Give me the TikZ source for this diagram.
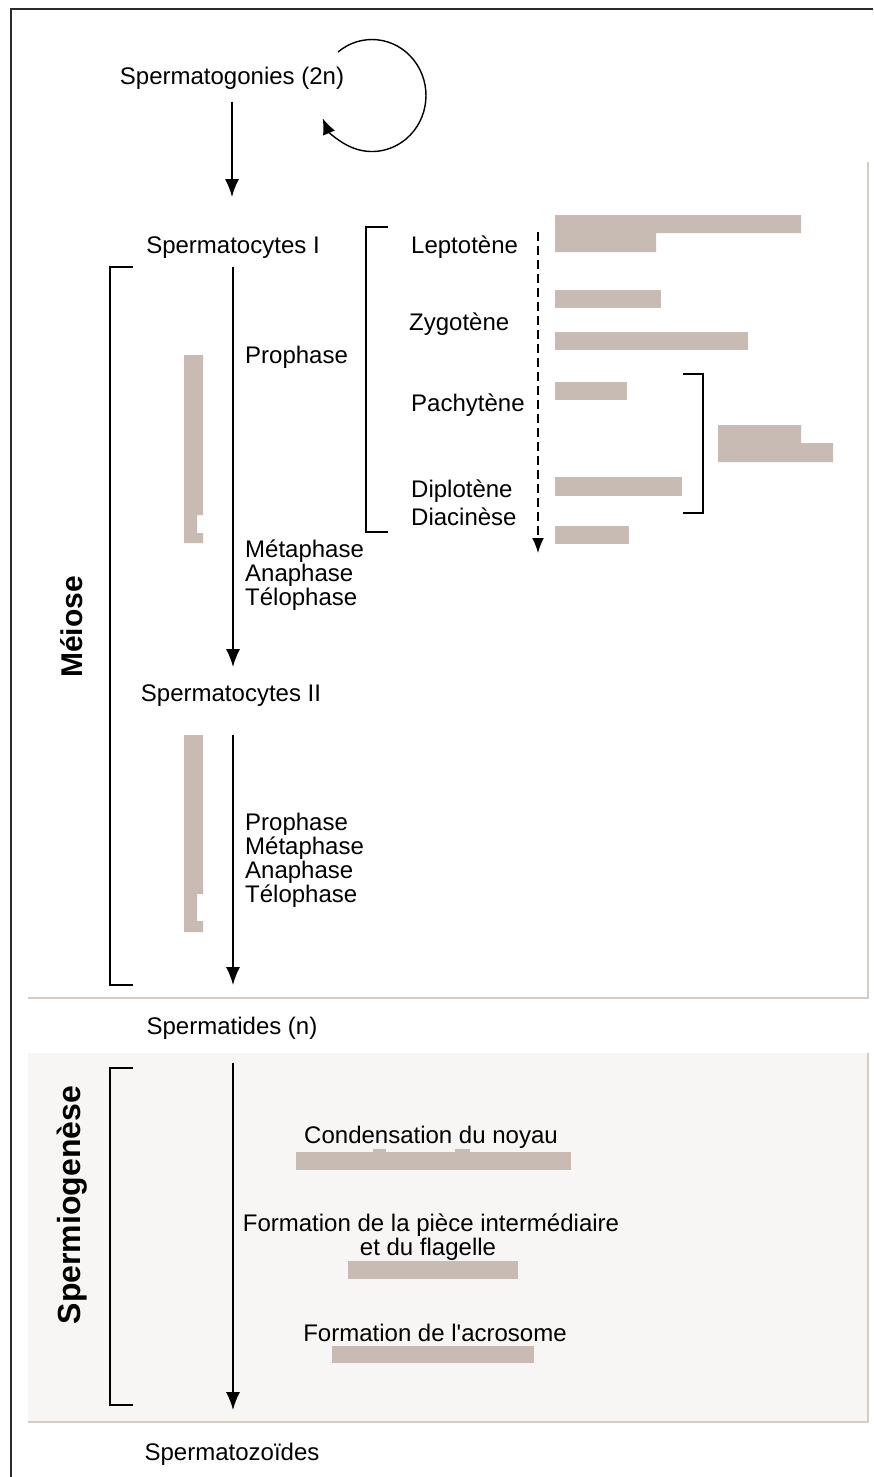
\documentclass[tikz,border=0pt]{standalone}
\usepackage{fontspec}
\setmainfont{Liberation Sans}
\newfontfamily\plainsans{Liberation Sans}
\usetikzlibrary{arrows.meta,calc}
\definecolor{barc}{HTML}{C8BBB3}
\definecolor{panelc}{HTML}{F7F6F4}
\definecolor{edgec}{HTML}{D6CCC6}
\definecolor{framec}{HTML}{2B2B2B}
\begin{document}
\begin{tikzpicture}[x=1pt,y=-1pt,
  every node/.style={inner sep=0pt},
  lbl/.style={font=\fontsize{24}{24}\selectfont, anchor=base},
  lblw/.style={font=\fontsize{24}{24}\selectfont, anchor=base west},
  big/.style={font=\fontsize{30}{30}\selectfont\bfseries, rotate=90},
  arr/.style={line width=1.5pt, -{Latex[length=18pt,width=14pt]}},
  darr/.style={line width=1.6pt, dash pattern=on 9pt off 5pt, -{Latex[length=15pt,width=12pt]}},
  brk/.style={line width=1.6pt, black},
  barfill/.style={fill=barc},
  edgeline/.style={draw=edgec, line width=1.5pt}]
\useasboundingbox (0,0) rectangle (873,1477);
\fill[white] (0,0) rectangle (873,1477);

% panels
\draw[edgeline] (868,162) -- (868,998) -- (28,998);
\fill[panelc] (28,1053) rectangle (868,1422);
\draw[edgeline] (868,1053) -- (868,1422) -- (28,1422);

% frame
\draw[framec, line width=2.5pt] (11,1477) -- (11,9) -- (873,9);

% bars (prophase stages)
\fill[barfill] (555,215) -- (801,215) -- (801,233) -- (656,233) -- (656,252) -- (555,252) -- cycle;
\fill[barfill] (555,290) rectangle (661,308);
\fill[barfill] (555,332) rectangle (748,350);
\fill[barfill] (555,382) rectangle (627,400);
\fill[barfill] (718,425) -- (801,425) -- (801,443) -- (833,443) -- (833,462) -- (718,462) -- cycle;
\fill[barfill] (555,477) rectangle (682,496);
\fill[barfill] (555,526) rectangle (629,544);
% left vertical bars
\fill[barfill] (184,355) -- (203,355) -- (203,515) -- (197,515) -- (197,533) -- (203,533) -- (203,543) -- (184,543) -- cycle;
\fill[barfill] (184,735) -- (203,735) -- (203,894) -- (197,894) -- (197,921) -- (203,921) -- (203,932) -- (184,932) -- cycle;
% spermiogenesis bars
\fill[barfill] (296,1152) rectangle (571,1170);
\fill[barfill] (373,1149) rectangle (386,1152);
\fill[barfill] (455,1149) rectangle (470,1152);
\fill[barfill] (348,1261) rectangle (518,1279);
\fill[barfill] (332,1346) rectangle (534,1363);

% brackets
\draw[brk] (133,267) -- (110,267) -- (110,985) -- (133,985);
\draw[brk] (133,1068) -- (110,1068) -- (110,1405) -- (133,1405);
\draw[brk] (388,227) -- (366,227) -- (366,532) -- (388,532);
\draw[brk] (683,374) -- (703,374) -- (703,513) -- (683,513);

% main labels
\node[lbl] (sg)  at (232,85)   {Spermatogonies (2n)};
\node[lbl] (sc1) at (233,253)  {Spermatocytes I};
\node[lbl] (sc2) at (231,701)  {Spermatocytes II};
\node[lbl] (st)  at (232,1034) {Spermatides (n)};
\node[lbl] (sz)  at (232,1460) {Spermatozoïdes};

% phase labels
\node[lblw] (pro1) at (245,363) {Prophase};
\node[lblw] (met1) at (245,557) {Métaphase};
\node[lblw] (ana1) at (245,581) {Anaphase};
\node[lblw] (tel1) at (245,605) {Télophase};
\node[lblw] (pro2) at (245,830) {Prophase};
\node[lblw] (met2) at (245,854) {Métaphase};
\node[lblw] (ana2) at (245,878) {Anaphase};
\node[lblw] (tel2) at (245,902) {Télophase};

% stage labels
\node[lblw] (lep) at (411,253) {Leptotène};
\node[lblw] (zyg) at (409,330) {Zygotène};
\node[lblw] (pac) at (411,411) {Pachytène};
\node[lblw] (dip) at (411,497) {Diplotène};
\node[lblw] (dia) at (411,525) {Diacinèse};

% spermiogenesis labels
\node[lbl] (cond) at (431,1143) {Condensation du noyau};
\node[lbl] (form1) at (431,1231) {Formation de la pièce intermédiaire};
\node[lbl] (form2) at (428,1255) {et du flagelle};
\node[lbl, font=\fontsize{24}{24}\plainsans] (acro) at (435,1341) {Formation de l'acrosome};

% vertical titles
\node[big] (mei) at (72,627) {Méiose};
\node[big, font=\fontsize{32}{32}\selectfont\bfseries] (spg) at (72,1205) {Spermiogenèse};

% arrows
\draw[arr] ($(sg.base)+(0,17)$) -- ($(sc1.base)+(-1,-56)$);
\draw[arr] ($(sc1.base)+(0,14)$) -- ($(sc2.base)+(2,-34)$);
\draw[arr] ($(sc2.base)+(2,34)$) -- ($(st.base)+(1,-49)$);
\draw[arr] ($(st.base)+(1,29)$) -- ($(sz.base)+(1,-50)$);

% dashed arrow
\coordinate (dtop) at (538,232);
\coordinate (dbot) at (538,553);
\draw[darr] (dtop) -- (dbot);

% self loop
\coordinate (loopstart) at (338,52);
\draw[line width=1.4pt, -{Latex[length=16pt,width=13pt]}] (loopstart) arc[start angle=-129, end angle=156, x radius=54, y radius=56];
\end{tikzpicture}
\end{document}
